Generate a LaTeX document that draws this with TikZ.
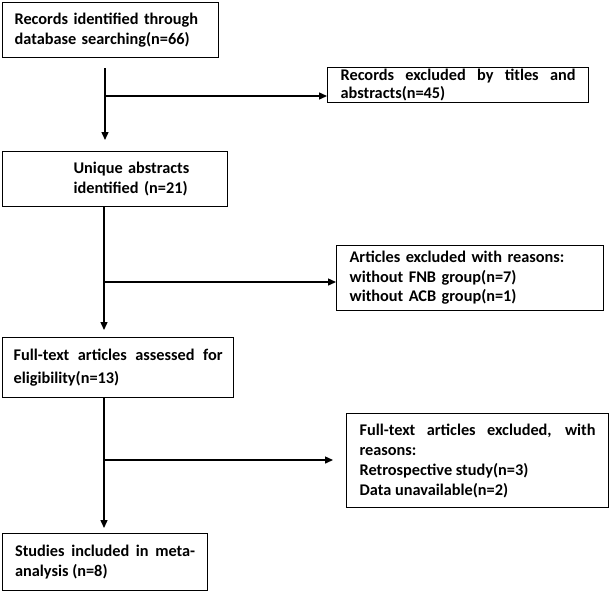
\documentclass[tikz,border=0pt]{standalone}
\usepackage{fontspec}
\setmainfont{Carlito}
\usetikzlibrary{arrows.meta}

\tikzset{
  box/.style={draw, line width=1.2pt, anchor=north west, inner xsep=12pt,
    inner ysep=0pt, font=\bfseries\fontsize{16.3}{20.5}\selectfont},
  flow/.style={line width=1.4pt, -{Triangle[width=7pt,length=8pt]}}
}

\begin{document}
\begin{tikzpicture}[x=1pt,y=-1pt]
\useasboundingbox (0,0) rectangle (609,592);

\node[box, text width=192pt, minimum height=55pt, align=left] (found) at (2,2)
  {Records identified through\\database searching(n=66)};
\node[box, text width=235pt, minimum height=35pt, align=justify, inner xsep=13pt,
  font=\bfseries\fontsize{16.3}{18}\selectfont] (excl1) at (327,67)
  {Records excluded by titles and\linebreak abstracts(n=45)};
\node[box, text width=201pt, minimum height=55pt, align=left] (unique) at (2,151)
  {\hspace*{59pt}Unique abstracts\\\hspace*{59pt}identified (n=21)};
\node[box, text width=241pt, minimum height=65pt, align=left, inner xsep=13pt,
  font=\bfseries\fontsize{16.3}{19.5}\selectfont] (excl2) at (336,245)
  {Articles excluded with reasons:\\without FNB group(n=7)\\without ACB group(n=1)};
\node[box, text width=209pt, minimum height=60pt, align=justify, inner xsep=11pt,
  font=\bfseries\fontsize{16.3}{23}\selectfont] (full) at (2,337)
  {Full-text articles assessed for\linebreak eligibility(n=13)};
\node[box, text width=236pt, minimum height=94pt, align=justify, inner xsep=13pt,
  font=\bfseries\fontsize{16.3}{20}\selectfont] (excl3) at (346,413)
  {Full-text articles excluded, with\linebreak reasons:\\Retrospective study(n=3)\\Data unavailable(n=2)};
\node[box, text width=180pt, minimum height=57pt, align=justify, inner xsep=12.5pt,
  font=\bfseries\fontsize{16.3}{20}\selectfont] (incl) at (2,533)
  {Studies included in meta-\linebreak analysis (n=8)};

\coordinate (j1) at (105,96);
\coordinate (j2) at (104,282);
\coordinate (j3) at (104,460);
\coordinate (t3) at (333,460);

\draw[flow, shorten <=10pt, shorten >=11pt] (found.south -| j1) -- (unique.north -| j1);
\draw[flow] (j1) -- (excl1.west |- j1);
\draw[flow, shorten >=7pt] (unique.south -| j2) -- (full.north -| j2);
\draw[flow] (j2) -- (excl2.west |- j2);
\draw[flow, shorten >=5pt] (full.south -| j3) -- (incl.north -| j3);
\draw[flow] (j3) -- (t3);
\end{tikzpicture}
\end{document}
